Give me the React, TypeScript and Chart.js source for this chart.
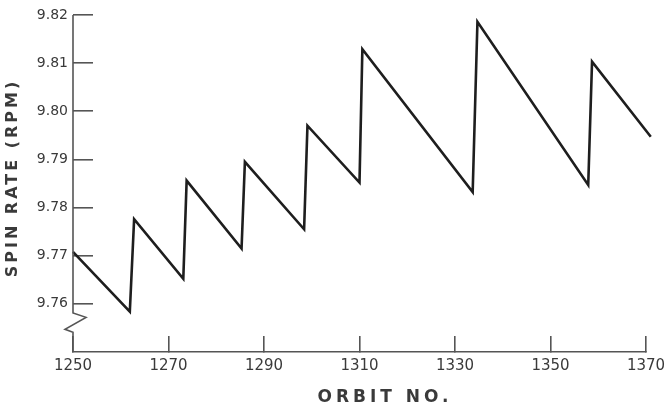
import React, { useEffect, useRef } from "react";
import { Chart, registerables } from "chart.js";

Chart.register(...registerables);

// Data (orbit number vs spin rate in rpm)
const ORBITS = [1250, 1261.9, 1262.8, 1273.1, 1273.8, 1285.3, 1286.0, 1298.4, 1299.1, 1310.0, 1310.6, 1333.7, 1334.7, 1357.9, 1358.7, 1371.0];
const SPIN = [9.7708, 9.7584, 9.7776, 9.7652, 9.7856, 9.7715, 9.7895, 9.7755, 9.797, 9.7852, 9.8129, 9.7832, 9.8186, 9.7847, 9.8103, 9.7947];

const X_MIN = 1250;
const X_MAX = 1370;
const X_STEP = 20;
const Y_MIN = 9.75;
const Y_MAX = 9.82;
const Y_STEP = 0.01;
const Y_FIRST_TICK = 9.76;
// axis break (zig-zag) values
const BREAK = [9.7581, 9.7572, 9.7547, 9.7541];

const X_TITLE = "ORBIT NO.";
const Y_TITLE = "SPIN RATE (RPM)";

const AXIS = "#555555";
const TEXT = "#3a3a3a";
const LINE = "#1e1e1e";
const FONT = "'DejaVu Sans', sans-serif";

const zeroPad = (s: any) => {
  s.paddingLeft = 0;
  s.paddingRight = 0;
  s.paddingTop = 0;
  s.paddingBottom = 0;
};

const customPlugin = {
  id: "customAxes",
  afterDraw(chart: any) {
    const ctx = chart.ctx;
    const y = chart.scales.y;
    const x0 = chart.chartArea.left;
    ctx.save();
    ctx.strokeStyle = AXIS;
    ctx.lineWidth = 1.6;
    ctx.lineJoin = "miter";
    ctx.beginPath();
    ctx.moveTo(x0, y.getPixelForValue(Y_MAX));
    ctx.lineTo(x0, y.getPixelForValue(BREAK[0]));
    ctx.lineTo(x0 + 13, y.getPixelForValue(BREAK[1]));
    ctx.lineTo(x0 - 8, y.getPixelForValue(BREAK[2]));
    ctx.lineTo(x0, y.getPixelForValue(BREAK[3]));
    ctx.lineTo(x0, y.getPixelForValue(Y_MIN));
    ctx.stroke();

    // axis titles
    ctx.fillStyle = TEXT;
    ctx.font = "bold 17px " + FONT;
    (ctx as any).letterSpacing = "4px";
    ctx.textAlign = "center";
    ctx.textBaseline = "middle";
    ctx.fillText(X_TITLE, 385, 398);
    (ctx as any).letterSpacing = "3px";
    ctx.font = "bold 16px " + FONT;
    ctx.translate(13, 178);
    ctx.rotate(-Math.PI / 2);
    ctx.fillText(Y_TITLE, 0, 0);
    ctx.restore();
  },
};

export default function App() {
  const ref = useRef<HTMLCanvasElement>(null);
  useEffect(() => {
    if (!ref.current) return;
    const chart = new Chart(ref.current, {
      type: "line",
      data: {
        datasets: [
          {
            data: ORBITS.map((o, i) => ({ x: o, y: SPIN[i] })),
            borderColor: LINE,
            borderWidth: 2.6,
            pointRadius: 0,
            tension: 0,
            fill: false,
            clip: false as any,
          },
        ],
      },
      options: {
        animation: false,
        responsive: true,
        maintainAspectRatio: false,
        layout: { autoPadding: false, padding: { left: 0, right: 22, top: 15, bottom: 0 } },
        plugins: { legend: { display: false }, tooltip: { enabled: false } },
        scales: {
          x: {
            type: "linear",
            min: X_MIN,
            max: X_MAX,
            afterFit: (s: any) => {
              s.height = 55;
              zeroPad(s);
            },
            ticks: {
              stepSize: X_STEP,
              padding: 21,
              color: TEXT,
              font: { family: FONT, size: 15 },
              maxRotation: 0,
              callback: (v: any) => String(v),
            },
            grid: { drawOnChartArea: false, drawTicks: true, tickLength: -16, color: AXIS, lineWidth: 1.6 },
            border: { display: true, color: AXIS, width: 1.6 },
          },
          y: {
            type: "linear",
            min: Y_MIN,
            max: Y_MAX,
            afterFit: (s: any) => {
              s.width = 73;
              zeroPad(s);
            },
            afterBuildTicks: (s: any) => {
              s.ticks = s.ticks.filter((t: any) => t.value >= Y_FIRST_TICK - 1e-6);
            },
            ticks: {
              stepSize: Y_STEP,
              padding: 25,
              color: TEXT,
              font: { family: FONT, size: 14 },
              callback: (v: any) => Number(v).toFixed(2),
            },
            grid: { drawOnChartArea: false, drawTicks: true, tickLength: -20, color: AXIS, lineWidth: 1.6 },
            border: { display: false },
          },
        },
      },
      plugins: [customPlugin],
    });
    return () => chart.destroy();
  }, []);
  return (
    <div style={{ position: "fixed", left: 0, top: 0, width: 668, height: 407, background: "#fff" }}>
      <canvas ref={ref} />
    </div>
  );
}
